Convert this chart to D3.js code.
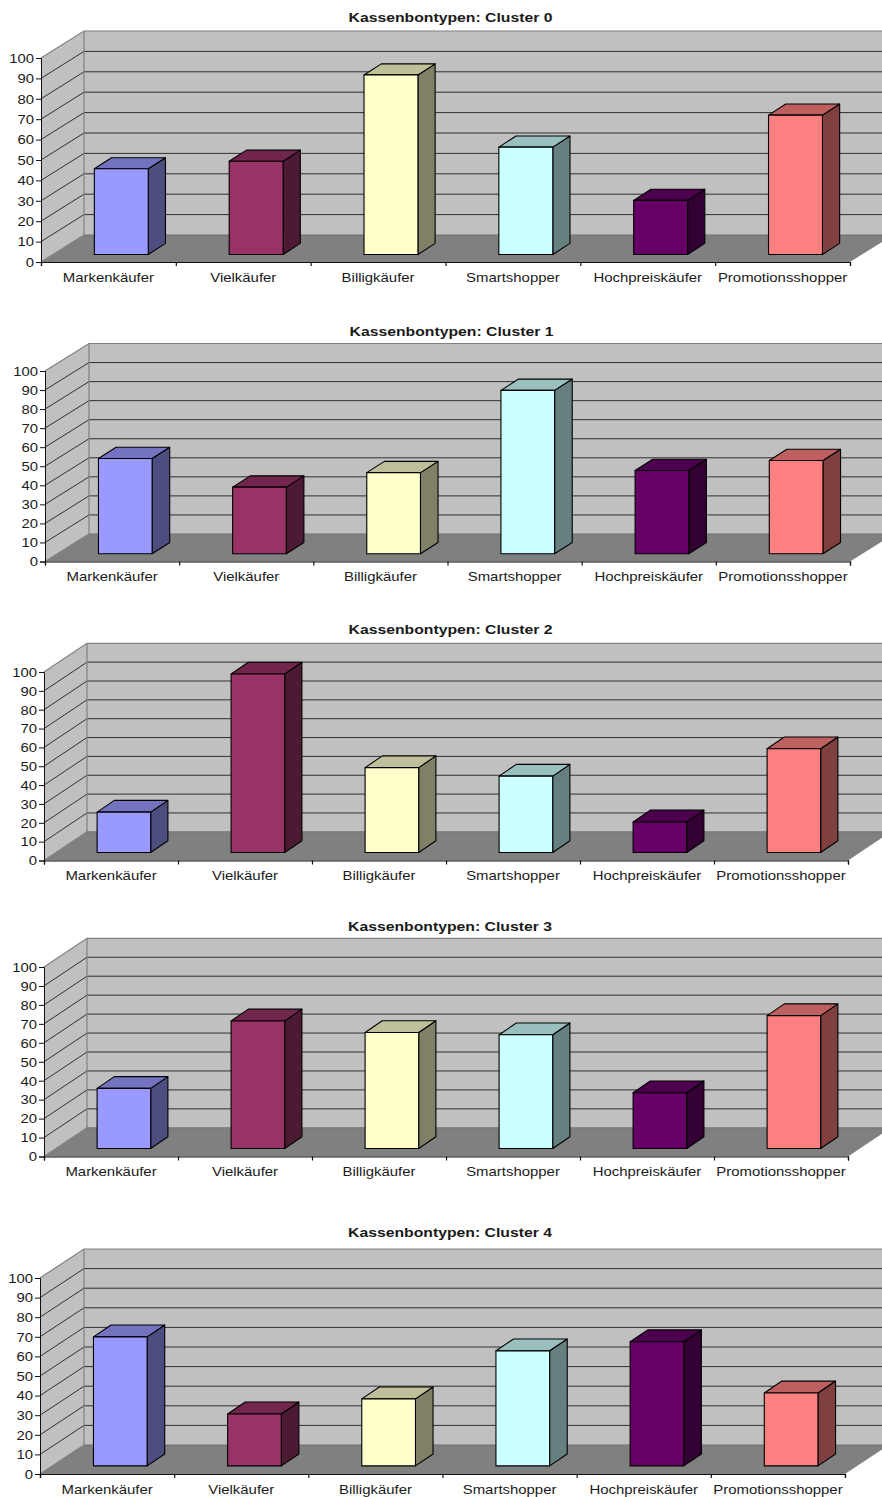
<!DOCTYPE html>
<html><head><meta charset="utf-8">
<script src="https://cdn.jsdelivr.net/npm/d3@7/dist/d3.min.js"></script>
<style>
html,body{margin:0;padding:0;background:#fff}
svg{display:block}
text{font-family:"Liberation Sans",Arial,sans-serif;fill:#1a1a1a}
</style></head><body>
<svg id="c" width="882" height="1497"></svg>
<script>
const categories = ["Markenkäufer","Vielkäufer","Billigkäufer","Smartshopper","Hochpreiskäufer","Promotionsshopper"];
const yTicks = [0,10,20,30,40,50,60,70,80,90,100];
const titles = ["Kassenbontypen: Cluster 0","Kassenbontypen: Cluster 1","Kassenbontypen: Cluster 2","Kassenbontypen: Cluster 3","Kassenbontypen: Cluster 4"];
const cluster0 = [42, 45.7, 88, 52.6, 26.5, 68.3];
const cluster1 = [50, 35, 42.6, 85.8, 43.7, 49];
const cluster2 = [21.4, 94.7, 45, 40.5, 16.2, 55];
const cluster3 = [31.7, 67.3, 61.2, 60, 29.4, 70.1];
const cluster4 = [65.8, 26.5, 34.2, 58.7, 63.3, 37.2];
const clusters = [cluster0, cluster1, cluster2, cluster3, cluster4];
const colors = ["#9999ff","#993366","#ffffcc","#ccffff","#660066","#ff8080"];

const layout = [
 {x0:41,x1:850,y0:262,y1:58,dx:43,dy:27,ty:21.5,tx:450.5},
 {x0:45,x1:850,y0:561.5,y1:371,dx:44,dy:27.5,ty:335.5,tx:451.5},
 {x0:44,x1:848,y0:860.5,y1:672,dx:43,dy:28.7,ty:633.5,tx:450.5},
 {x0:44,x1:848,y0:1156.5,y1:967,dx:43,dy:28.7,ty:930.5,tx:450},
 {x0:40,x1:845,y0:1474,y1:1278,dx:44,dy:29,ty:1236.5,tx:450}
];
const svg = d3.select("#c");
svg.append("defs").append("clipPath").attr("id","page").append("rect").attr("width",882).attr("height",1497);
const DF = 0.28, DFX = 0.30, DDX = 0.40, DDY = 0.41;
function stretch(sel,k){
  sel.each(function(){
    const w = this.getComputedTextLength();
    d3.select(this).attr("textLength",w*k).attr("lengthAdjust","spacingAndGlyphs");
  });
}

clusters.forEach((vals,pi)=>{
  const L = layout[pi];
  const g = svg.append("g").attr("clip-path","url(#page)");
  const y = d3.scaleLinear().domain([0,100]).range([L.y0,L.y1]);
  const x = d3.scaleBand().domain(categories).range([L.x0,L.x1]).paddingInner(0.6).paddingOuter(0.3);
  const xOuter = d3.scaleBand().domain(categories).range([L.x0,L.x1]);
  const xEdge = d3.scaleLinear().domain([0,6]).range([L.x0,L.x1]);
  const line = d3.line();
  const bx = L.x0+L.dx, by0 = y(0)-L.dy, by100 = y(100)-L.dy, brx = L.x1+L.dx;
  g.append("path").attr("d",line([[bx,by100],[brx,by100],[brx,by0],[bx,by0]])+"Z").attr("fill","#c0c0c0");
  g.append("path").attr("d",line([[L.x0,y(0)],[bx,by0],[bx,by100],[L.x0,y(100)]])+"Z").attr("fill","#c0c0c0");
  g.append("path").attr("d",line([[L.x0,y(0)],[bx,by0],[brx,by0],[L.x1,y(0)]])+"Z").attr("fill","#808080");
  yTicks.slice(1,-1).forEach(t=>{
    g.append("path").attr("d",line([[L.x0,y(t)],[bx,y(t)-L.dy],[brx,y(t)-L.dy]])).attr("fill","none").attr("stroke","#1f1f1f").attr("stroke-width",0.9);
  });
  g.append("path").attr("d",line([[L.x0,y(100)],[bx,by100],[brx,by100]])).attr("fill","none").attr("stroke","#808080").attr("stroke-width",1.2);
  g.append("path").attr("d",line([[L.x0,y(0)],[bx,by0],[bx,by100]])).attr("fill","none").attr("stroke","#808080").attr("stroke-width",1.2);
  g.append("path").attr("d",line([[bx,by0],[brx,by0]])).attr("fill","none").attr("stroke","#707070").attr("stroke-width",1);
  const bdx = L.dx*DDX, bdy = L.dy*DDY, sx = L.dx*DFX, sy = L.dy*DF;
  categories.forEach((c,i)=>{
    const v = vals[i], base = colors[i];
    const xl = x(c)+sx, xr = xl+x.bandwidth(), yb = y(0)-sy, yt = y(v)-sy;
    const b = g.append("g").attr("stroke","#000").attr("stroke-width",1.1).attr("stroke-linejoin","round");
    b.append("path").attr("d",line([[xr,yb],[xr+bdx,yb-bdy],[xr+bdx,yt-bdy],[xr,yt]])+"Z").attr("fill",d3.interpolateRgb(base,"#000")(0.5));
    b.append("path").attr("d",line([[xl,yt],[xr,yt],[xr+bdx,yt-bdy],[xl+bdx,yt-bdy]])+"Z").attr("fill",d3.interpolateRgb(base,"#000")(0.25));
    b.append("rect").attr("x",xl).attr("y",yt).attr("width",xr-xl).attr("height",yb-yt).attr("fill",base);
  });
  const ya = g.append("g").attr("transform",`translate(${L.x0},0)`)
    .call(d3.axisLeft(y).tickValues(yTicks).tickSize(5).tickPadding(2));
  ya.selectAll("path,line").attr("stroke","#111").attr("stroke-width",1);
  ya.selectAll("text").attr("font-size",13.5).attr("font-family","Liberation Sans").attr("fill","#1a1a1a").call(stretch,1.1);
  const xe = g.append("g").attr("transform",`translate(0,${y(0)})`)
    .call(d3.axisBottom(xEdge).tickValues(d3.range(7)).tickSize(4).tickFormat(""));
  xe.selectAll("path,line").attr("stroke","#111").attr("stroke-width",1.2);
  const xa = g.append("g").attr("transform",`translate(0,${y(0)})`)
    .call(d3.axisBottom(xOuter).tickSize(0).tickPadding(10));
  xa.select("path").remove();
  xa.selectAll("text").attr("font-size",13.5).attr("font-family","Liberation Sans").attr("fill","#1a1a1a").call(stretch,1.105);
  svg.append("text").attr("x",L.tx).attr("y",L.ty).attr("text-anchor","middle")
    .attr("font-size",12.5).attr("font-weight","bold").text(titles[pi]).call(stretch,1.26);
});
</script>
</body></html>
